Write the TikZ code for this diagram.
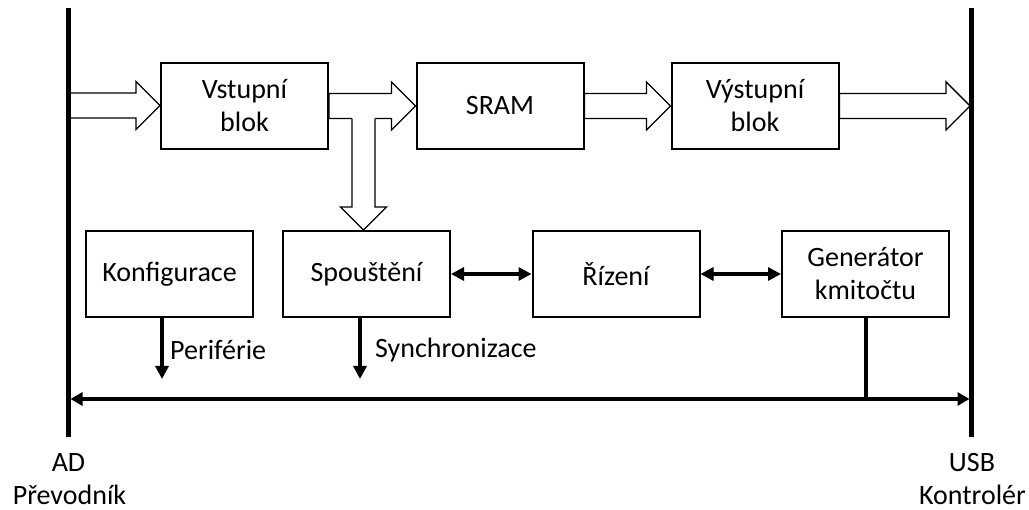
\documentclass[tikz,border=0pt]{standalone}
\usepackage{fontspec}
\setmainfont{Carlito}
\usetikzlibrary{arrows.meta,calc}

\tikzset{
  block/.style={draw, line width=2pt, minimum width=167pt, minimum height=86pt,
    align=center, inner sep=0pt, font=\fontsize{28}{33}\selectfont},
  label/.style={inner sep=0pt, font=\fontsize{28}{33}\selectfont},
  hollow/.style={draw, fill=white, line width=1.4pt, line join=miter},
  rail/.style={line width=4.5pt},
  sig/.style={line width=4pt, -{Triangle[length=13pt,width=13pt]}},
  sigboth/.style={line width=4pt, {Triangle[length=13pt,width=13pt]}-{Triangle[length=13pt,width=13pt]}},
  bus/.style={line width=4pt, {Triangle[length=12pt,width=13pt]}-{Triangle[length=12pt,width=13pt]}},
}

% wide hollow arrow pointing right, from #1 to the tip #2 (same height)
\newcommand\hollowright[2]{%
  \draw[hollow] let \p1=(#1), \p2=(#2) in
    (\x1,\y1+12.5pt) -- (\x2-24pt,\y1+12.5pt) -- (\x2-24pt,\y1+24pt) -- (\x2,\y1)
    -- (\x2-24pt,\y1-24pt) -- (\x2-24pt,\y1-12.5pt) -- (\x1,\y1-12.5pt) -- cycle;}

% wide hollow arrow pointing down, opening out of a shaft at #1, tip at #2
\newcommand\hollowdown[2]{%
  \fill[white] let \p1=(#1), \p2=(#2) in
    (\x1-11.5pt,\y1+1.2pt) -- (\x1-11.5pt,\y2+23pt) -- (\x1-23pt,\y2+23pt) -- (\x1,\y2)
    -- (\x1+23pt,\y2+23pt) -- (\x1+11.5pt,\y2+23pt) -- (\x1+11.5pt,\y1+1.2pt) -- cycle;
  \draw[line width=1.4pt, line join=miter] let \p1=(#1), \p2=(#2) in
    (\x1-11.5pt,\y1-0.7pt) -- (\x1-11.5pt,\y2+23pt) -- (\x1-23pt,\y2+23pt) -- (\x1,\y2)
    -- (\x1+23pt,\y2+23pt) -- (\x1+11.5pt,\y2+23pt) -- (\x1+11.5pt,\y1-0.7pt);}

\begin{document}
\begin{tikzpicture}[x=1pt, y=-1pt]
  \useasboundingbox (0,0) rectangle (1029,510);

  % data path
  \node[block] (vst)  at (244.5,106) {Vstupní\\blok};
  \node[block] (sram) at (500,106)   {SRAM};
  \node[block] (vyst) at (755,106)   {Výstupní\\blok};

  % control row
  \node[block] (konf) at (169.5,274) {Konfigurace};
  \node[block] (spou) at (366.5,274) {Spouštění};
  \node[block] (riz)  at (616,274)   {Řízení};
  \node[block] (gen)  at (865.5,274) {Generátor\\kmitočtu};

  % side rails
  \coordinate (adTop) at (68.5,8);
  \coordinate (adBot) at (68.5,437);
  \coordinate (usbTop) at (971.5,8);
  \coordinate (usbBot) at (971.5,437);

  % wide data arrows
  \coordinate (inL)  at (68.5,105.5);
  \coordinate (outR) at (970,105.5);
  \hollowright{inL}{vst.west}
  \hollowright{vst.east}{sram.west}
  \hollowright{sram.east}{vyst.west}
  \hollowright{vyst.east}{outR}

  % branch down to the trigger block
  \coordinate (split) at (363.5,118);
  \hollowdown{split}{split |- spou.north}

  % control links
  \draw[sigboth] (spou.east) -- (riz.west);
  \draw[sigboth] (riz.east) -- (gen.west);

  % outputs to the bus
  \coordinate (perEnd)  at (162,379);
  \coordinate (syncEnd) at (360,379);
  \draw[sig] (perEnd |- konf.south) -- (perEnd);
  \draw[sig] (syncEnd |- spou.south) -- (syncEnd);
  \node[label, anchor=west] (perLbl)  at (170,350) {Periférie};
  \node[label, anchor=west] (syncLbl) at (375,350) {Synchronizace};

  % bus between the rails
  \coordinate (busL) at (70.5,399);
  \coordinate (busR) at (969.5,399);
  \draw[bus] (busL) -- (busR);
  \draw[line width=4pt] (gen.south) -- (gen.south |- busR);

  % the rails on top of the arrow ends
  \draw[rail] (adTop) -- (adBot);
  \draw[rail] (usbTop) -- (usbBot);

  % rail names
  \node[label, anchor=base] (ad)   at (68.5,472) {AD};
  \node[label, anchor=base] (adc)  at (69.5,505) {Převodník};
  \node[label, anchor=base] (usb)  at (972,472)  {USB};
  \node[label, anchor=base] (usbc) at (972.5,505) {Kontrolér};
\end{tikzpicture}
\end{document}
